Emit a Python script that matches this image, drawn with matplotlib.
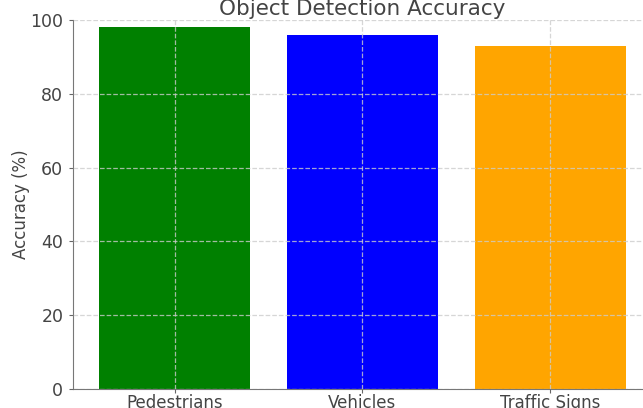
import matplotlib
matplotlib.use("Agg")
import matplotlib.pyplot as plt

categories = ["Pedestrians", "Vehicles", "Traffic Signs"]
accuracy = [98, 96, 93]
bar_colors = ["green", "blue", "orange"]
title = "Object Detection Accuracy"
ylabel = "Accuracy (%)"

W, H = 643, 408
fig = plt.figure(figsize=(W / 100, H / 100), dpi=100)

# axes extend slightly past the right edge of the canvas
left, right, top, bottom = 73, 652, 20, 389
ax = fig.add_axes([left / W, 1 - bottom / H, (right - left) / W, (bottom - top) / H])

ax.bar(categories, accuracy, color=bar_colors, width=0.8)
ax.set_ylim(0, 100)
ax.set_ylabel(ylabel, fontsize=12, color="#444444")
ax.yaxis.set_label_coords((30 - left) / (right - left), 0.5)
ax.tick_params(axis="y", labelsize=12.5, length=3, pad=4, colors="#666666", labelcolor="#444444")
ax.tick_params(axis="x", labelsize=12, length=3, pad=0.5, colors="#666666", labelcolor="#444444")
ax.set_axisbelow(False)
ax.grid(True, linestyle="--", color="#cccccc", alpha=0.8, linewidth=0.9)
for side in ("top", "right"):
    ax.spines[side].set_visible(False)
for side in ("left", "bottom"):
    ax.spines[side].set_color("#777777")

fig.text((left + right) / 2 / W, 1 - 15 / H, title, ha="center", va="baseline",
         fontsize=15.5, color="#444444")

fig.savefig("out.png", dpi=100)
